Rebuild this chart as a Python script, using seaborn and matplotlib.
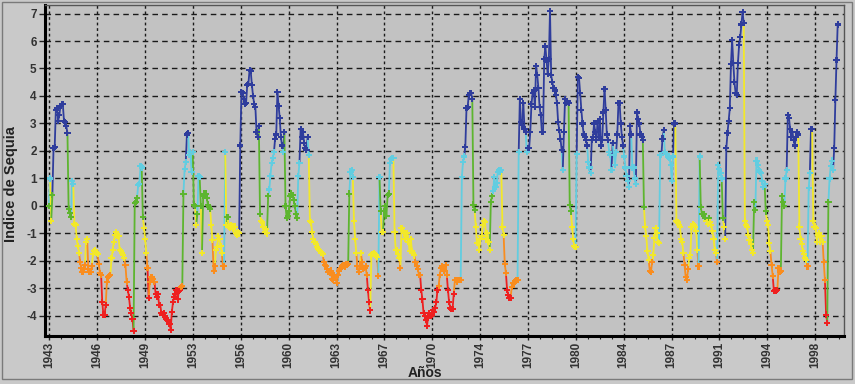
import numpy as np
import pandas as pd
import matplotlib
matplotlib.use("Agg")
import matplotlib.pyplot as plt
from matplotlib.collections import LineCollection
from matplotlib.patches import Rectangle
from matplotlib.ticker import AutoMinorLocator, FixedLocator
import seaborn as sns

# --- Indice de sequia mensual, ene 1943 - sep 1999 ---
sequia_1943_1952 = [
    0.0, 1.0, -0.55, 0.4, 2.1, 2.15, 3.5, 3.55, 3.1, 3.3, 3.65, 3.7,          # 1943
    3.7, 3.1, 3.05, 2.9, 2.65, -0.1, -0.25, -0.4, 0.9, 0.8, -0.65, -0.7,      # 1944
    -1.2, -1.45, -1.7, -2.05, -2.25, -2.4, -2.3, -2.15, -1.3, -1.2, -2.3, -2.4,  # 1945
    -2.4, -2.2, -1.75, -1.65, -1.6, -1.7, -1.75, -2.1, -2.45, -2.5, -3.5, -3.95,  # 1946
    -3.95, -3.6, -2.75, -2.6, -2.55, -2.5, -1.9, -1.6, -1.3, -1.05, -0.95, -1.1,  # 1947
    -1.1, -1.6, -1.65, -1.7, -1.8, -1.9, -2.15, -2.75, -3.05, -3.3, -3.7, -3.9,  # 1948
    -4.1, -4.55, 0.1, 0.15, 0.3, 0.75, 0.8, 1.45, 1.4, -0.4, -0.8, -1.2,      # 1949
    -1.7, -2.25, -3.35, -2.75, -2.6, -2.6, -2.65, -2.75, -3.2, -3.3, -3.2, -3.6,  # 1950
    -3.6, -3.9, -3.95, -3.9, -4.0, -4.1, -4.15, -4.15, -4.3, -4.5, -3.85, -3.5,  # 1951
    -3.3, -3.2, -3.05, -3.4, -3.1, -3.05, -2.95, -2.9, 0.45, 1.35, 1.6, 2.6,  # 1952
]
sequia_1953_1962 = [
    2.65, 1.85, 1.95, 1.25, 1.95, 0.05, 0.0, -0.7, -0.3, 1.1, 1.05, 0.0,      # 1953
    -1.7, 0.35, 0.45, 0.45, 0.3, 0.05, -0.05, -0.1, -0.7, -1.25, -2.35, -2.2,  # 1954
    -1.6, -1.5, -1.1, -1.2, -1.45, -1.7, -2.2, -2.2, 1.95, -0.7, -0.4, -0.75,  # 1955
    -0.8, -0.7, -0.75, -0.85, -0.75, -1.0, -1.05, -0.95, -1.0, 2.2, 4.15, 4.1,  # 1956
    3.9, 3.7, 3.75, 4.4, 4.45, 4.95, 4.9, 4.4, 4.0, 3.7, 3.6, 2.7,            # 1957
    2.5, 2.9, -0.3, -0.55, -0.6, -0.75, -0.95, -0.85, -1.0, 0.35, 0.6, 1.1,   # 1958
    1.55, 1.75, 1.95, 2.45, 2.6, 4.15, 3.65, 3.2, 2.5, 2.2, 1.95, 2.7,        # 1959
    0.0, -0.45, -0.35, -0.2, 0.35, 0.45, 0.4, 0.2, 0.0, -0.3, -0.45, 1.1,     # 1960
    1.55, 2.8, 2.5, 2.7, 2.3, 2.1, 2.05, 2.5, 1.85, -0.55, -0.6, -0.95,       # 1961
    -1.2, -1.3, -1.4, -1.5, -1.55, -1.6, -1.65, -1.7, -1.75, -2.05, -2.15, -2.2,  # 1962
]
sequia_1963_1972 = [
    -2.3, -2.4, -2.45, -2.35, -2.65, -2.7, -2.5, -2.6, -2.8, -2.5, -2.35, -2.3,  # 1963
    -2.25, -2.2, -2.15, -2.2, -2.1, -2.15, -2.1, 0.45, 1.25, 1.3, 1.05, -0.55,  # 1964
    -1.2, -1.7, -2.2, -2.4, -2.2, -1.7, -2.05, -2.3, -2.25, -2.2, -2.5, -3.05,  # 1965
    -3.5, -3.8, -1.8, -1.75, -1.7, -1.75, -1.8, -1.85, -2.55, 1.05, -0.2, -0.95,  # 1966
    -0.95, -0.2, 0.0, -0.35, 0.4, 0.45, 1.55, 1.7, 1.75, 1.75, -0.95, -1.6,   # 1967
    -1.6, -1.75, -1.9, -2.25, -0.8, -0.9, -1.0, -1.2, -1.1, -1.0, -1.3, -1.65,  # 1968
    -1.2, -1.65, -1.7, -1.8, -2.05, -2.2, -2.3, -2.5, -2.5, -3.05, -3.4, -3.9,  # 1969
    -4.0, -4.15, -4.35, -4.0, -3.9, -4.0, -3.95, -3.8, -3.85, -3.7, -3.5, -3.05,  # 1970
    -2.9, -2.5, -2.25, -2.2, -2.3, -2.35, -2.15, -2.5, -3.05, -3.5, -3.7, -3.75,  # 1971
    -3.75, -3.2, -2.7, -2.7, -2.75, -2.7, -2.7, -2.7, 1.05, 1.6, 1.8, 2.15,   # 1972
]
sequia_1973_1982 = [
    3.55, 3.6, 4.05, 4.1, 4.1, 3.9, 0.05, -0.15, -0.75, -1.35, -1.35, -1.6,   # 1973
    -1.2, -1.1, -0.7, -0.55, -0.6, -1.2, -1.0, -1.3, -1.6, 0.15, 0.35, 0.55,  # 1974
    1.05, 0.7, 0.85, 1.25, 1.3, 1.25, 1.3, -0.75, -1.05, -2.1, -2.45, -3.05,  # 1975
    -3.25, -3.35, -3.35, -2.95, -2.8, -2.8, -2.75, -2.7, -2.7, 1.95, 3.9, 3.05,  # 1976
    2.95, 3.75, 2.8, 2.7, 1.95, 2.1, 2.1, 2.7, 3.7, 4.1, 4.2, 3.6,            # 1977
    5.1, 4.75, 4.3, 3.6, 3.3, 2.7, 2.7, 5.35, 5.8, 5.3, 4.8, 5.35,            # 1978
    7.1, 4.75, 4.5, 4.3, 4.2, 4.05, 3.75, 3.05, 2.75, 2.45, 2.05, 1.3,        # 1979
    2.7, 3.9, 3.75, 3.8, 3.75, 0.05, -0.2, -0.75, -1.2, -1.45, -1.5, 1.9,     # 1980
    4.7, 4.65, 4.1, 3.5, 3.0, 2.6, 2.5, 2.4, 2.2, 1.6, 1.4, 1.2,              # 1981
    2.4, 2.5, 3.0, 2.7, 2.4, 3.1, 2.5, 3.15, 2.2, 2.4, 3.4, 4.25,             # 1982
]
sequia_1983_1992 = [
    3.5, 2.6, 2.4, 1.95, 1.85, 1.3, 2.3, 1.85, 1.5, 1.95, 2.6, 3.75,          # 1983
    3.75, 3.0, 2.5, 2.2, 1.8, 1.4, 1.1, 0.9, 0.7, 2.9, 2.6, 1.4,              # 1984
    1.4, 1.0, 0.8, 3.4, 3.15, 3.0, 2.6, 2.5, 2.4, -0.05, -0.75, -1.1,         # 1985
    -1.65, -1.95, -2.35, -2.4, -2.05, -1.8, -1.15, -0.8, -1.0, -1.3, -1.35, 1.85,  # 1986
    1.85, 2.45, 2.75, 1.95, 1.9, 1.9, 1.8, 1.75, 1.5, 0.9, 1.8, 3.0,          # 1987
    3.0, -0.55, -0.6, -0.7, -0.75, -1.2, -1.3, -1.7, -2.15, -2.6, -2.7, -2.3,  # 1988
    -1.9, -1.8, -0.75, -0.65, -0.7, -0.75, -0.9, -1.6, -2.2, 1.8, -0.05, -0.3,  # 1989
    -0.3, -0.3, -0.45, -0.55, -0.65, -0.45, -0.6, -0.7, -0.9, -1.2, -1.6, -1.7,  # 1990
    -2.05, 1.5, 1.35, 1.2, 1.0, -0.45, -0.75, -1.2, 2.1, 2.65, 3.1, 3.55,     # 1991
    5.15, 6.05, 5.2, 4.5, 4.1, 4.05, 5.2, 5.85, 6.15, 6.6, 7.05, 6.65,        # 1992
]
sequia_1993_1999 = [
    -0.55, -0.7, -0.75, -1.05, -1.25, -1.4, -1.6, -1.7, 0.15, -0.15, 1.65, 1.5,  # 1993
    1.3, 1.25, 1.2, 0.9, 0.7, 0.8, -0.2, -0.55, -0.7, -1.35, -1.65, -2.15,    # 1994
    -2.55, -3.1, -3.05, -3.1, -3.05, -2.25, -2.4, -2.35, 0.35, 0.15, 0.0, 1.0,  # 1995
    1.3, 3.3, 3.2, 2.8, 2.5, 2.7, 2.4, 2.2, 2.5, 2.7, 2.6, -0.75,             # 1996
    -1.2, -1.4, -1.65, -1.75, -1.9, -1.95, -2.2, 0.65, 1.2, 2.8, 2.8, -0.55,  # 1997
    -0.75, -0.8, -1.3, -1.05, -1.0, -1.3, -1.1, -1.3, -2.05, -2.7, -3.95, -4.25,  # 1998
    0.15, 1.0, 1.45, 1.65, 1.3, 2.1, 3.85, 5.3, 6.6,                          # 1999
]

x_tick_labels = ["1943", "1946", "1949", "1953", "1956", "1960", "1963", "1967", "1970",
                 "1974", "1977", "1980", "1984", "1987", "1991", "1994", "1998"]
y_ticks = [-4, -3, -2, -1, 0, 1, 2, 3, 4, 5, 6, 7]

clases = ["muy_seco", "seco", "moderado", "normal", "humedo", "muy_humedo"]
limites = [-np.inf, -3, -2, -0.5, 0.5, 2, np.inf]
colores = ["#ee2020", "#f98d1f", "#f2e82a", "#5db52f", "#62cde0", "#2f3d9c"]


def main():
    valores = np.array(sequia_1943_1952 + sequia_1953_1962 + sequia_1963_1972
                       + sequia_1973_1982 + sequia_1983_1992 + sequia_1993_1999)
    meses = np.arange(len(valores))
    df = pd.DataFrame({"anio": 1943 + (meses + 0.5) / 12, "indice": valores})
    df["clase"] = pd.cut(df["indice"], bins=limites, labels=clases, right=False)
    paleta = dict(zip(clases, colores))

    sns.set_style("white")
    plt.rcParams["font.family"] = ["Liberation Sans", "DejaVu Sans"]

    fig = plt.figure(figsize=(8.55, 3.84), dpi=100, facecolor="#c9c9c9")
    ax = fig.add_axes([0.0526, 0.125, 0.9345, 0.862])
    ax.set_facecolor("#c2c2c2")

    # --- Segmentos coloreados segun el punto de llegada ---
    pts = df[["anio", "indice"]].to_numpy()
    segs = np.stack([pts[:-1], pts[1:]], axis=1)
    seg_cols = [paleta[c] for c in df["clase"].iloc[1:]]
    ax.add_collection(LineCollection(segs, colors=seg_cols, linewidths=1.3, zorder=2))

    sns.scatterplot(data=df, x="anio", y="indice", hue="clase", palette=paleta,
                    marker="P", s=20, linewidth=0, legend=False, ax=ax, zorder=3)

    # --- Ejes ---
    ax.set_xlim(1942.76, 2000.16)
    ax.set_ylim(-4.73, 7.31)
    x_pos = 1943 + 1 / 12 + np.arange(len(x_tick_labels)) * 55 / 16
    ax.xaxis.set_major_locator(FixedLocator(x_pos))
    ax.set_xticklabels(x_tick_labels, rotation=90, fontsize=8.5, fontweight="bold", color="#333333")
    ax.xaxis.set_minor_locator(AutoMinorLocator(4))
    ax.set_yticks(y_ticks)
    ax.set_yticklabels([str(v) for v in y_ticks], fontsize=8.5, fontweight="bold", color="#333333")
    ax.tick_params(axis="x", which="major", direction="out", length=3, width=1, color="#222222",
                   bottom=True, pad=1)
    ax.tick_params(axis="y", which="major", direction="out", length=4, width=1, color="#222222",
                   left=True, pad=2)
    ax.tick_params(axis="x", which="minor", direction="out", length=2.5, width=0.8, color="#222222",
                   bottom=True)

    ax.set_axisbelow(True)
    ax.xaxis.grid(True, color="#1a1a1a", linestyle=(0, (2, 2)), linewidth=1)
    ax.yaxis.grid(True, color="#1a1a1a", linestyle=(0, (4, 3)), linewidth=1)

    for side in ["left", "bottom"]:
        ax.spines[side].set_linewidth(2.2)
        ax.spines[side].set_color("black")
    for side in ["top", "right"]:
        ax.spines[side].set_linewidth(1)
        ax.spines[side].set_color("#555555")

    ax.set_xlabel("Años", fontsize=10, fontweight="bold", color="#222222")
    ax.xaxis.set_label_coords(0.475, -0.09)
    ax.set_ylabel("Indice de Sequia", fontsize=10.5, fontweight="bold", color="#222222")
    ax.yaxis.set_label_coords(-0.034, 0.46)

    fig.patches.append(Rectangle((0.002, 0.012), 0.994, 0.983, transform=fig.transFigure,
                                 fill=False, edgecolor="#7a7a7a", linewidth=1))

    fig.savefig("out.png", dpi=100, facecolor=fig.get_facecolor())


if __name__ == "__main__":
    main()
